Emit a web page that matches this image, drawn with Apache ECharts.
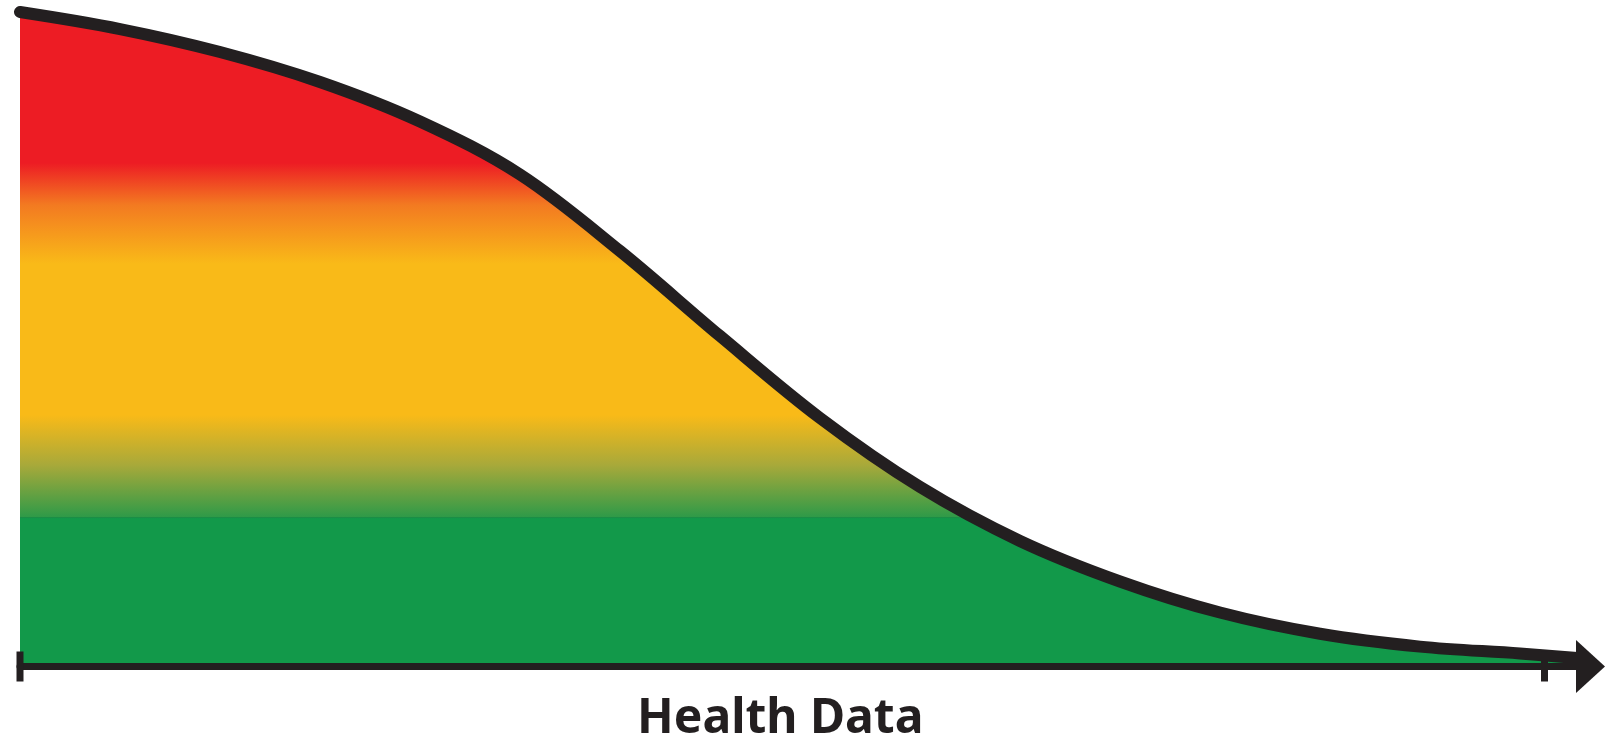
<!DOCTYPE html>
<html>
<head>
<meta charset="utf-8">
<script src="https://cdn.jsdelivr.net/npm/echarts@6/dist/echarts.min.js"></script>
<style>
html,body{margin:0;padding:0;background:#ffffff;}
#chart{width:1619px;height:741px;}
</style>
</head>
<body>
<div id="chart"></div>
<script>
// Curve (x: position along the axis, y: height)
const curveX = [0, 10, 20, 30, 40, 50, 60, 70, 80, 90, 100, 110, 120, 130, 140, 150, 155.7];
const curveY = [100, 97.4, 93.89, 89.31, 83.27, 75.17, 63.48, 50.5, 37.97, 27.43, 19.18, 12.99, 8.24, 5.0, 3.04, 1.99, 1.3];
// Tick marks at both ends of the axis
const tickX = [0, 152.45];
const axisTitle = 'Health Data';

const ink = '#231F20';
const chart = echarts.init(document.getElementById('chart'), null, {renderer: 'canvas'});

const H = 741;
const fill = {
  type: 'linear', x: 0, y: 0, x2: 0, y2: H, global: true,
  colorStops: [
    {offset: 0, color: '#ED1C24'},
    {offset: 163 / H, color: '#ED1C24'},
    {offset: 205 / H, color: '#F37A21'},
    {offset: 264 / H, color: '#F9BA18'},
    {offset: 415 / H, color: '#F9BA18'},
    {offset: 465 / H, color: '#A8A93A'},
    {offset: 517 / H, color: '#2F9A48'},
    {offset: 517.6 / H, color: '#178B46'},
    {offset: 518.6 / H, color: '#12994A'},
    {offset: 1, color: '#12994A'}
  ]
};

const option = {
  animation: false,
  backgroundColor: '#ffffff',
  grid: {left: 20, right: 28.5, top: 12, bottom: 74.5, containLabel: false, outerBoundsMode: 'none'},
  xAxis: {
    type: 'value',
    min: 0,
    max: 157.05,
    z: 5,
    name: axisTitle,
    nameLocation: 'middle',
    nameGap: 29,
    nameTextStyle: {
      fontFamily: 'Noto Sans',
      fontWeight: 'bold',
      fontSize: 48,
      color: ink,
      padding: [0, 50, 0, 0]
    },
    axisLine: {
      show: true,
      onZero: false,
      symbol: ['none', 'triangle'],
      symbolSize: [53, 29],
      lineStyle: {color: ink, width: 7}
    },
    axisTick: {show: false},
    axisLabel: {show: false},
    splitLine: {show: false}
  },
  yAxis: {
    type: 'value',
    min: 0,
    max: 100,
    show: false
  },
  series: [
    {
      type: 'line',
      data: curveX.map((x, i) => [x, curveY[i]]),
      smooth: 0.35,
      symbol: 'none',
      clip: false,
      z: 2,
      lineStyle: {color: ink, width: 12, cap: 'round', join: 'round'},
      areaStyle: {color: fill, opacity: 1, origin: 'start'}
    },
    {
      type: 'scatter',
      data: tickX.map(x => [x, 0]),
      symbol: 'rect',
      symbolSize: [7, 30],
      itemStyle: {color: ink, opacity: 1},
      z: 6,
      clip: false,
      silent: true
    }
  ]
};
chart.setOption(option);
</script>
</body>
</html>
